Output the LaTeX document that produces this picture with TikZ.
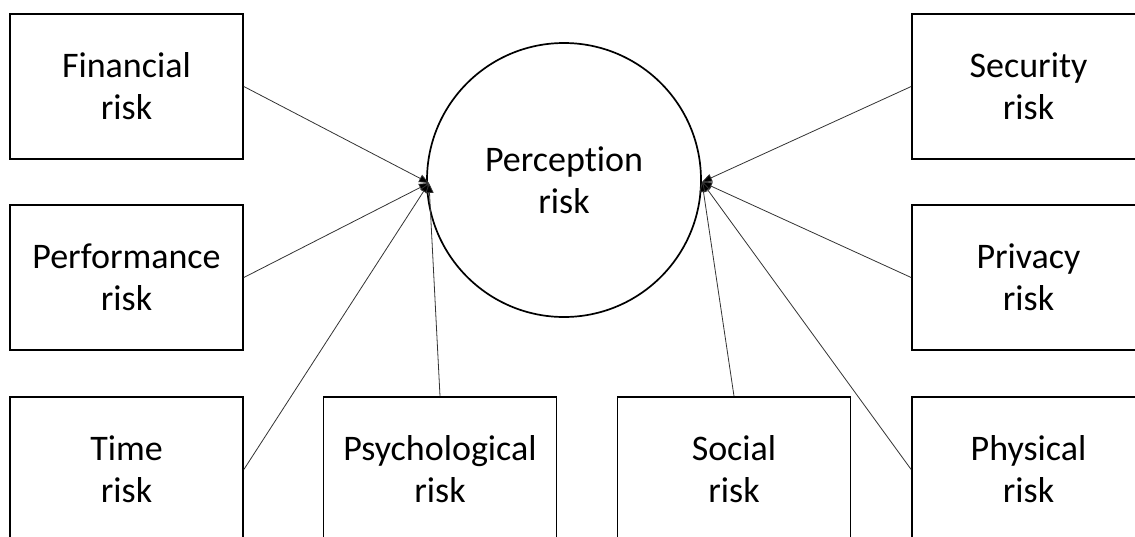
\documentclass[tikz,border=0pt]{standalone}
\usepackage{fontspec}
\setmainfont[Ligatures={NoCommon}]{Carlito}
\usetikzlibrary{arrows.meta}
\begin{document}
\begin{tikzpicture}[x=1pt,y=-1pt,
  riskbox/.style={draw,line width=1.7pt,minimum width=233pt,minimum height=145pt,inner sep=0pt,align=center,font=\fontsize{36}{42}\selectfont},
  conn/.style={line width=0.8pt,draw=black!80,-{Triangle[length=10pt,width=8pt,fill=black]}}]
\useasboundingbox (0,0) rectangle (1135,536);
\node[draw,circle,line width=1.7pt,minimum size=274pt,inner sep=0pt,align=center,font=\fontsize{36}{42}\selectfont] (per) at (564,180) {Perception\\risk};
\node[riskbox] (fin) at (126.5,86.5) {Financial\\risk};
\node[riskbox] (perf) at (126.5,277.5) {Performance\\risk};
\node[riskbox] (time) at (126.5,469.5) {Time\\risk};
\node[riskbox] (psy) at (440,469.5) {Psychological\\risk};
\node[riskbox] (soc) at (734,469.5) {Social\\risk};
\node[riskbox] (phy) at (1028.5,469.5) {Physical\\risk};
\node[riskbox] (pri) at (1028.5,277.5) {Privacy\\risk};
\node[riskbox] (sec) at (1028.5,86.5) {Security\\risk};
\coordinate (L) at (429,183);
\coordinate (R) at (702,182);
\draw[conn] (fin.east) -- (L);
\draw[conn] (perf.east) -- (L);
\draw[conn] (time.east) -- (L);
\draw[conn] (psy.north) -- (L);
\draw[conn] (soc.north) -- (R);
\draw[conn] (phy.west) -- (R);
\draw[conn] (pri.west) -- (R);
\draw[conn] (sec.west) -- (R);
\end{tikzpicture}
\end{document}
